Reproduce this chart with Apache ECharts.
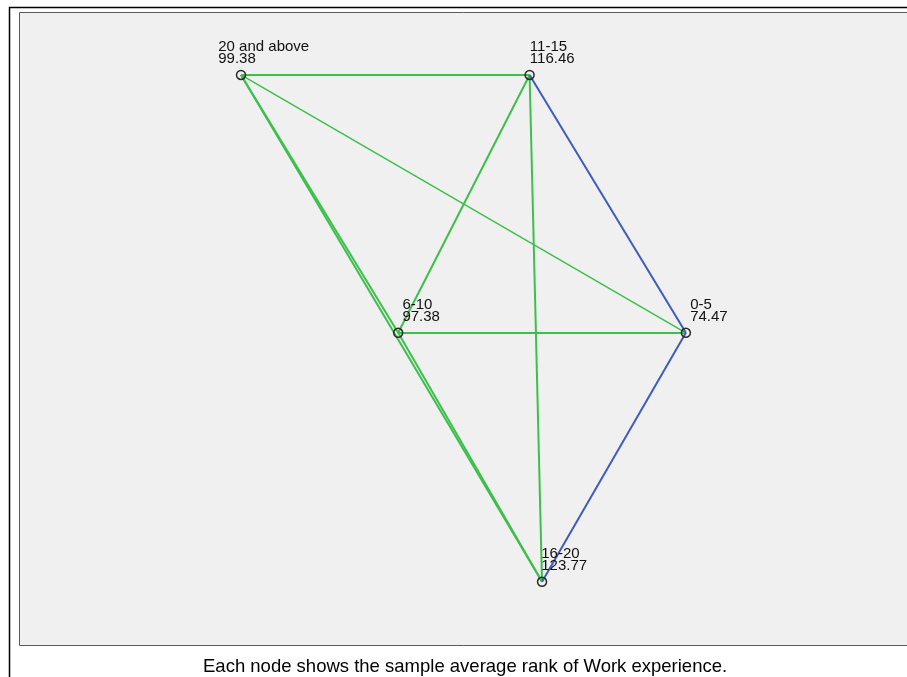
<!DOCTYPE html>
<html>
<head>
<meta charset="utf-8">
<script src="https://cdn.jsdelivr.net/npm/echarts@6/dist/echarts.min.js"></script>
<style>html,body{margin:0;padding:0;background:#fff;}#c{width:907px;height:677px;}</style>
</head>
<body>
<div id="c"></div>
<script>
// Data
var nodeNames = ['20 and above', '11-15', '6-10', '0-5', '16-20'];
var meanRanks = ['99.38', '116.46', '97.38', '74.47', '123.77'];
// layout coordinates of nodes (0-100 scale)
var nodeX = [25.0, 57.5, 42.7, 75.1, 58.9];
var nodeY = [90.2, 90.2, 49.4, 49.4, 10.0];
var linkSource = ['20 and above', '20 and above', '20 and above', '20 and above', '11-15', '11-15', '6-10', '6-10', '11-15', '0-5'];
var linkTarget = ['11-15', '0-5', '6-10', '16-20', '6-10', '16-20', '0-5', '16-20', '0-5', '16-20'];
var linkSignificant = [false, false, false, false, false, false, false, false, true, true];
var caption = 'Each node shows the sample average rank of Work experience.';

// Styling (label horizontal offsets relative to node)
var labelDx = [-22, 1, 5, 5, 0];

var chart = echarts.init(document.getElementById('c'));
var nodes = nodeNames.map(function (n, i) {
  return {
    name: n,
    value: [nodeX[i], nodeY[i]],
    label: {
      show: true,
      formatter: n + '\n' + meanRanks[i],
      position: [labelDx[i] + 4.5, -5],
      align: 'left',
      verticalAlign: 'bottom'
    }
  };
});
var links = linkSource.map(function (s, i) {
  return {
    source: s,
    target: linkTarget[i],
    lineStyle: {
      color: linkSignificant[i] ? '#3f5cbd' : '#3dbf4b',
      width: (s === '20 and above' && linkTarget[i] === '0-5') ? 1.5 : 2,
      opacity: 1
    }
  };
});
chart.setOption({
  animation: false,
  graphic: [
    { type: 'rect', z: -10, shape: { x: 9.5, y: 7.5, width: 1000, height: 1000 }, style: { fill: '#ffffff', stroke: '#000000', lineWidth: 1.5 } },
    { type: 'rect', z: -9, shape: { x: 19.5, y: 12.5, width: 1000, height: 633 }, style: { fill: '#f0f0f0', stroke: '#5a5a5a', lineWidth: 1 } },
    { type: 'text', left: 203, top: 657, style: { text: caption, font: '18.5px "Liberation Sans", Arial, sans-serif', fill: '#000' } }
  ],
  grid: { left: 19, top: 13, width: 888, height: 632, show: false },
  xAxis: { type: 'value', min: 0, max: 100, show: false },
  yAxis: { type: 'value', min: 0, max: 100, show: false },
  series: [{
    type: 'graph',
    coordinateSystem: 'cartesian2d',
    symbol: 'circle',
    symbolSize: 9,
    itemStyle: { color: 'rgba(0,0,0,0)', borderColor: '#2a2a2a', borderWidth: 1.5 },
    label: {
      color: '#111',
      fontFamily: '"Liberation Sans", Arial, sans-serif',
      fontSize: 15,
      lineHeight: 12
    },
    emphasis: { disabled: true },
    z: 5,
    data: nodes,
    links: links
  }]
});
</script>
</body>
</html>
